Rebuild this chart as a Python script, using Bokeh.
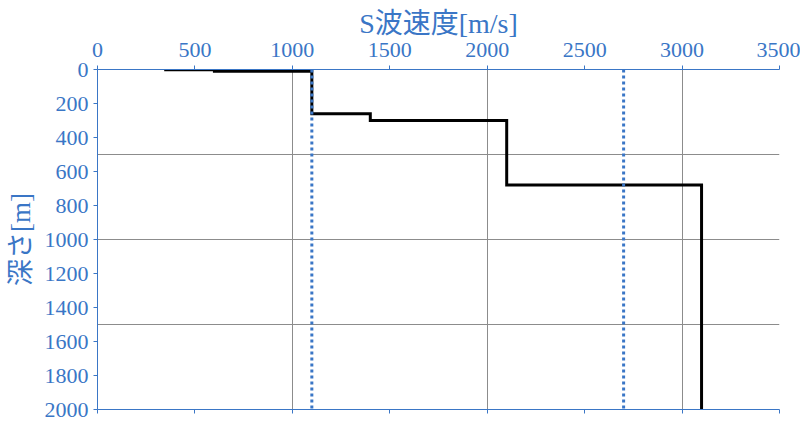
from bokeh.plotting import figure
from bokeh.models import Range1d, LinearAxis, FixedTicker
from bokeh.embed import file_html
from bokeh.resources import INLINE

# Data
vs = [350, 600, 1100, 1400, 2100, 3100]          # S-wave velocity [m/s]
top_depth = [0, 2, 10, 260, 300, 680]            # layer top depth [m]
bottom_depth = 2000
ref_vs = [1100, 2700]                            # dotted reference lines
x_ticks = [0, 500, 1000, 1500, 2000, 2500, 3000, 3500]
y_ticks = [0, 200, 400, 600, 800, 1000, 1200, 1400, 1600, 1800, 2000]
x_grid = [1000, 2000, 3000]
y_grid = [500, 1000, 1500]

bottoms = top_depth[1:] + [bottom_depth]
xs, ys = [], []
for v, t, b in zip(vs, top_depth, bottoms):
    xs += [v, v]
    ys += [t, b]

BLUE = "#3A76C6"
FONT = "Liberation Serif, Noto Sans CJK JP"

p = figure(frame_width=682, frame_height=340, output_backend="svg",
           toolbar_location=None,
           x_axis_location="above", x_range=Range1d(0, 3500),
           y_range=Range1d(2000, 0), min_border_left=89, min_border_right=21,
           min_border_top=61, min_border_bottom=12)
p.margin = (4, 0, 0, 2)
p.outline_line_color = None
p.background_fill_color = "white"

# Axes style
for ax in [p.xaxis[0], p.yaxis[0]]:
    ax.axis_line_color = BLUE
    ax.major_tick_line_color = BLUE
    ax.minor_tick_line_color = None
    ax.major_tick_out = 4
    ax.major_tick_in = 0
    ax.major_label_text_color = BLUE
    ax.major_label_text_font = FONT
    ax.major_label_text_font_size = "22px"
    ax.axis_label_text_color = BLUE
    ax.axis_label_text_font = FONT
    ax.axis_label_text_font_style = "normal"

p.xaxis[0].ticker = FixedTicker(ticks=x_ticks)
p.yaxis[0].ticker = FixedTicker(ticks=y_ticks)
p.xaxis[0].axis_label = "S波速度[m/s]"
p.xaxis[0].axis_label_text_font_size = "28px"
p.xaxis[0].axis_label_standoff = 1
p.xaxis[0].major_label_standoff = 9
p.yaxis[0].axis_label = "深さ[m]"
p.yaxis[0].axis_label_text_font_size = "27px"
p.yaxis[0].axis_label_standoff = 6
p.yaxis[0].major_label_standoff = 5

bottom_ax = LinearAxis(ticker=FixedTicker(ticks=x_ticks))
bottom_ax.axis_line_color = BLUE
bottom_ax.major_tick_line_color = BLUE
bottom_ax.major_tick_out = 4
bottom_ax.major_tick_in = 0
bottom_ax.minor_tick_line_color = None
bottom_ax.major_label_text_color = None
bottom_ax.major_label_text_font_size = "1px"
bottom_ax.major_label_standoff = 0
p.add_layout(bottom_ax, "below")

p.xgrid.ticker = FixedTicker(ticks=x_grid)
p.ygrid.ticker = FixedTicker(ticks=y_grid)
p.xgrid.grid_line_color = "#8C8C8C"
p.ygrid.grid_line_color = "#8C8C8C"
p.xgrid.grid_line_width = 1
p.ygrid.grid_line_width = 1

p.line(xs, ys, line_color="black", line_width=3, line_join="miter")

for v in ref_vs:
    p.line([v, v], [0, bottom_depth], line_color=BLUE, line_width=3,
           line_dash="3 3")

open("out.html", "w").write(file_html(p, INLINE))
